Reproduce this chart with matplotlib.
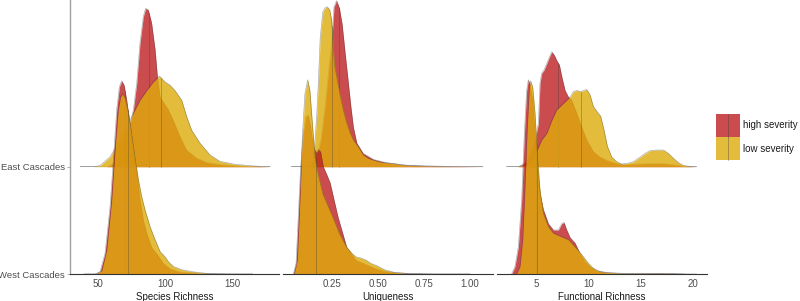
import numpy as np
import matplotlib
matplotlib.use("Agg")
import matplotlib.pyplot as plt
from matplotlib.patches import Rectangle
from matplotlib.lines import Line2D

plt.rcParams["font.family"] = ["Liberation Sans", "DejaVu Sans"]

regions = ["West Cascades", "East Cascades"]
severities = ["high severity", "low severity"]
metrics = ["Species Richness", "Uniqueness", "Functional Richness"]

# ridge heights are read off the picture, in units of the gap between ridges
# --- Species Richness
sr_east_high_x = [37, 56.7, 61.6, 66.6, 70.3, 73.5, 76.5, 79, 81.4, 83.9, 85.6, 87.6, 90, 92.6, 94.3, 96.3,
                  102.5, 106.2, 111.1, 116, 123.5, 131, 140.8, 155.7, 178]
sr_east_high_h = [0, 0, 0.03, 0.12, 0.25, 0.36, 0.53, 0.78, 1.15, 1.40, 1.475, 1.46, 1.34, 1.09, 0.84, 0.65,
                  0.53, 0.43, 0.28, 0.155, 0.08, 0.04, 0.02, 0.006, 0]
sr_east_low_x = [37, 47, 51.7, 59, 62.9, 66, 70, 73, 76.5, 81.4, 86.4, 91.3, 95.8, 100, 103.7, 107.4, 112.4,
                 116, 119.8, 126, 133.4, 140.8, 150.7, 160.6, 170.5, 178]
sr_east_low_h = [0, 0, 0.01, 0.09, 0.17, 0.24, 0.32, 0.4, 0.5, 0.62, 0.71, 0.79, 0.845, 0.79, 0.76, 0.71, 0.62,
                 0.47, 0.34, 0.22, 0.11, 0.05, 0.025, 0.012, 0.003, 0]
sr_west_high_x = [40, 48, 51.7, 55.4, 59.2, 61.6, 64.1, 66.1, 67.8, 69.6, 71.5, 74, 76.5, 79, 81.4, 83.9, 86.4,
                  90, 93.8, 98.8, 103.7, 111, 126, 141, 165]
sr_west_high_h = [0, 0, 0.02, 0.19, 0.63, 1.06, 1.53, 1.745, 1.8, 1.76, 1.62, 1.4, 1.17, 0.94, 0.69, 0.5, 0.38,
                  0.25, 0.19, 0.1, 0.05, 0.02, 0.006, 0, 0]
sr_west_low_x = [40, 49, 53, 56.7, 60.4, 62.9, 65.3, 67, 68.6, 70.3, 72.8, 75.2, 77.7, 80.2, 82.7, 85.1, 88.9,
                 92.6, 96.3, 100, 102.5, 106.2, 112.4, 121, 131, 150.7, 165]
sr_west_low_h = [0, 0, 0.03, 0.22, 0.69, 1.16, 1.53, 1.65, 1.68, 1.64, 1.5, 1.31, 1.09, 0.88, 0.72, 0.6, 0.44,
                 0.32, 0.21, 0.16, 0.115, 0.07, 0.04, 0.02, 0.006, 0, 0]
sr_medians = {"East Cascades": [88.1, 97.3], "West Cascades": [70.3, 72.3]}

# --- Uniqueness
un_east_high_x = [0.03, 0.13, 0.16, 0.19, 0.215, 0.235, 0.248, 0.254, 0.261, 0.275, 0.29, 0.305, 0.322, 0.339,
                  0.352, 0.366, 0.385, 0.42, 0.475, 0.547, 0.638, 0.76, 0.946, 1.07]
un_east_high_h = [0, 0, 0.05, 0.25, 0.6, 0.95, 1.15, 1.3, 1.49, 1.547, 1.48, 1.33, 1.05, 0.78,
                  0.57, 0.37, 0.22, 0.124, 0.068, 0.037, 0.016, 0.006, 0.002, 0]
un_east_low_x = [0.03, 0.13, 0.145, 0.158, 0.168, 0.176, 0.186, 0.2, 0.212, 0.225, 0.238, 0.248, 0.257, 0.266,
                 0.28, 0.293, 0.31, 0.33, 0.348, 0.366, 0.393, 0.42, 0.445, 0.475, 0.51, 0.55, 0.583, 0.656,
                 0.76, 0.87, 1.07]
un_east_low_h = [0, 0, 0.03, 0.25, 0.5, 0.78, 1.2, 1.44, 1.48, 1.49, 1.46, 1.37, 1.09, 0.93,
                 0.8, 0.68, 0.54, 0.41, 0.32, 0.25, 0.186, 0.11, 0.08, 0.062, 0.045, 0.035, 0.03, 0.012,
                 0.006, 0.002, 0]
un_west_high_x = [0.04, 0.055, 0.067, 0.08, 0.094, 0.109, 0.121, 0.134, 0.149, 0.163, 0.176, 0.188, 0.203,
                  0.221, 0.24, 0.26, 0.283, 0.31, 0.33, 0.38, 0.435, 0.49, 0.54, 0.6, 0.7, 0.8, 1.0]
un_west_high_h = [0, 0.1, 0.53, 1.0, 1.31, 1.47, 1.48, 1.37, 1.19, 1.13, 1.16, 1.14, 1.0,
                  0.93, 0.85, 0.7, 0.53, 0.37, 0.25, 0.13, 0.09, 0.05, 0.025, 0.01, 0.003, 0, 0]
un_west_low_x = [0.045, 0.062, 0.076, 0.09, 0.103, 0.118, 0.13, 0.145, 0.158, 0.17, 0.185, 0.2, 0.225, 0.255,
                 0.29, 0.33, 0.36, 0.38, 0.405, 0.435, 0.46, 0.49, 0.54, 0.59, 0.67, 0.8, 1.0]
un_west_low_h = [0, 0.13, 0.69, 1.31, 1.68, 1.81, 1.71, 1.37, 1.09, 0.97, 0.86, 0.75, 0.65, 0.53,
                 0.38, 0.25, 0.19, 0.16, 0.15, 0.13, 0.1, 0.08, 0.037, 0.015, 0.004, 0, 0]
un_medians = {"East Cascades": [0.29, 0.25], "West Cascades": [0.165, 0.161]}

# --- Functional Richness
fr_east_high_x = [2.13, 3.24, 3.56, 3.88, 4.2, 4.52, 4.84, 5.16, 5.32, 5.48, 5.7, 5.96, 6.21, 6.44, 6.69, 6.92,
                  7.17, 7.4, 7.72, 8.04, 8.35, 8.83, 9.31, 9.79, 10.43, 11.07, 11.7, 12.67, 13.3, 14.6, 15.86,
                  17.1, 18.1, 19.06, 20.3]
fr_east_high_h = [0, 0, 0.015, 0.04, 0.08, 0.15, 0.25, 0.4, 0.78, 0.87, 0.9, 0.96, 1.02, 1.07, 1.04, 0.99,
                  0.95, 0.84, 0.71, 0.65, 0.62, 0.5, 0.37, 0.25, 0.14, 0.09, 0.06, 0.03, 0.019, 0.025, 0.03,
                  0.03, 0.019, 0.005, 0]
fr_east_low_x = [2.13, 3.08, 3.7, 4.36, 4.9, 5.48, 5.96, 6.44, 6.92, 7.4, 7.88, 8.2, 8.51, 8.83, 9.22, 9.47,
                 9.79, 10.11, 10.43, 10.81, 11.13, 11.45, 11.77, 12.19, 12.67, 13.15, 13.63, 14.27, 14.9,
                 15.38, 15.86, 16.5, 17.14, 17.62, 18.1, 18.58, 19.06, 19.86, 20.3]
fr_east_low_h = [0, 0, 0.01, 0.03, 0.12, 0.25, 0.31, 0.43, 0.53, 0.575, 0.62, 0.65, 0.7, 0.71, 0.7, 0.71,
                 0.72, 0.67, 0.56, 0.51, 0.47, 0.34, 0.19, 0.09, 0.047, 0.025, 0.03, 0.047, 0.09,
                 0.124, 0.15, 0.155, 0.155, 0.124, 0.078, 0.037, 0.012, 0, 0]
fr_west_high_x = [2.6, 2.92, 3.24, 3.56, 3.82, 4.04, 4.2, 4.36, 4.62, 4.84, 5.06, 5.32, 5.64, 6.12, 6.6, 7.08,
                  7.4, 7.62, 7.88, 8.2, 8.67, 9.15, 9.63, 10.11, 10.75, 11.7, 13, 15, 16.8, 18.5, 20.3]
fr_west_high_h = [0, 0.07, 0.25, 0.69, 1.31, 1.71, 1.81, 1.77, 1.62, 1.31, 1.0, 0.75, 0.6, 0.47, 0.41, 0.41,
                  0.47, 0.48, 0.41, 0.34, 0.29, 0.19, 0.115, 0.068, 0.03, 0.012, 0.004, 0.004, 0.006, 0.002, 0]
fr_west_low_x = [3.08, 3.4, 3.66, 3.88, 4.1, 4.3, 4.42, 4.62, 4.84, 5.06, 5.32, 5.64, 6.12, 6.6, 7.08, 7.56,
                 8.04, 8.51, 8.99, 9.47, 9.95, 10.43, 11.07, 12.03, 13.3, 15.2, 17, 19.06]
fr_west_low_h = [0, 0.07, 0.32, 0.81, 1.37, 1.74, 1.8, 1.74, 1.5, 1.12, 0.78, 0.565, 0.44, 0.38, 0.36, 0.34,
                 0.32, 0.27, 0.22, 0.16, 0.1, 0.053, 0.022, 0.012, 0.006, 0.006, 0.006, 0]
fr_medians = {"East Cascades": [7.08, 9.22], "West Cascades": [4.97, 5.0]}

x_ticks = [[50, 100, 150], [0.25, 0.5, 0.75, 1.0], [5, 10, 15, 20]]
x_ticklabels = [["50", "100", "150"], ["0.25", "0.50", "0.75", "1.00"], ["5", "10", "15", "20"]]
x_limits = [(29.4, 184.7), (-0.016, 1.125), (1.2, 21.31)]

curves = [
    {"East Cascades": [(sr_east_high_x, sr_east_high_h), (sr_east_low_x, sr_east_low_h)],
     "West Cascades": [(sr_west_high_x, sr_west_high_h), (sr_west_low_x, sr_west_low_h)]},
    {"East Cascades": [(un_east_high_x, un_east_high_h), (un_east_low_x, un_east_low_h)],
     "West Cascades": [(un_west_high_x, un_west_high_h), (un_west_low_x, un_west_low_h)]},
    {"East Cascades": [(fr_east_high_x, fr_east_high_h), (fr_east_low_x, fr_east_low_h)],
     "West Cascades": [(fr_west_high_x, fr_west_high_h), (fr_west_low_x, fr_west_low_h)]},
]
medians = [sr_medians, un_medians, fr_medians]

fill_cols = ["#BF1F22", "#DEAB0B"]
line_col = "#3a3a3a"
W, H = 800, 301
fig = plt.figure(figsize=(8, 3.01), dpi=100, facecolor="white")
panels = [(70, 279), (283, 493), (497, 707)]
top_px, bot_px = 0, 274

for i, (l, r) in enumerate(panels):
    ax = fig.add_axes([l / W, (H - bot_px) / H, (r - l) / W, (bot_px - top_px) / H])
    ax.set_facecolor("none")
    z = 1
    for base, reg in [(2, "East Cascades"), (1, "West Cascades")]:
        for k in range(2):
            xs, hs = curves[i][reg][k]
            xs = np.array(xs); hs = np.array(hs)
            ax.fill_between(xs, base, base + hs, color=fill_cols[k], alpha=0.8, lw=0, zorder=z)
            ax.plot(xs, base + hs, color=line_col, lw=0.45, alpha=0.45, zorder=z + 0.1)
            m = medians[i][reg][k]
            ax.plot([m, m], [base, base + np.interp(m, xs, hs)], color=line_col, lw=0.5, alpha=0.45,
                    zorder=z + 0.1)
            z += 1
    ax.set_xlim(*x_limits[i])
    ax.set_ylim(1.0, 2 + (166.7 - top_px) / 107.3)
    for s in ["top", "right"]:
        ax.spines[s].set_visible(False)
    ax.spines["bottom"].set_color("#333333")
    ax.spines["bottom"].set_linewidth(0.8)
    ax.spines["bottom"].set_zorder(20)
    ax.set_xticks(x_ticks[i])
    ax.set_xticklabels(x_ticklabels[i])
    ax.tick_params(axis="x", length=0, pad=3.5, labelsize=7, labelcolor="#4d4d4d")
    ax.set_xlabel(metrics[i], fontsize=7, color="#1a1a1a", labelpad=2)
    if i == 0:
        ax.spines["left"].set_color("#a0a0a0")
        ax.spines["left"].set_linewidth(1.0)
        ax.set_yticks([1, 2])
        ax.set_yticklabels(regions)
        ax.tick_params(axis="y", length=2.5, width=0.6, color="#a0a0a0", pad=1,
                       labelsize=6.8, labelcolor="#4d4d4d")
    else:
        ax.spines["left"].set_visible(False)
        ax.set_yticks([])

# legend keys
for k, (lab, yt) in enumerate(zip(severities, [114, 137])):
    fig.add_artist(Rectangle((716 / W, (H - yt - 23) / H), 24 / W, 23 / H, transform=fig.transFigure,
                             facecolor=fill_cols[k], alpha=0.8, edgecolor="none"))
    fig.add_artist(Line2D([728 / W, 728 / W], [(H - yt - 23) / H, (H - yt) / H], transform=fig.transFigure,
                          color=line_col, lw=0.5, alpha=0.5))
    fig.text(743 / W, (H - yt - 11.5) / H, lab, fontsize=7, va="center", ha="left", color="#1a1a1a")

fig.savefig("out.png", dpi=100, facecolor="white")
